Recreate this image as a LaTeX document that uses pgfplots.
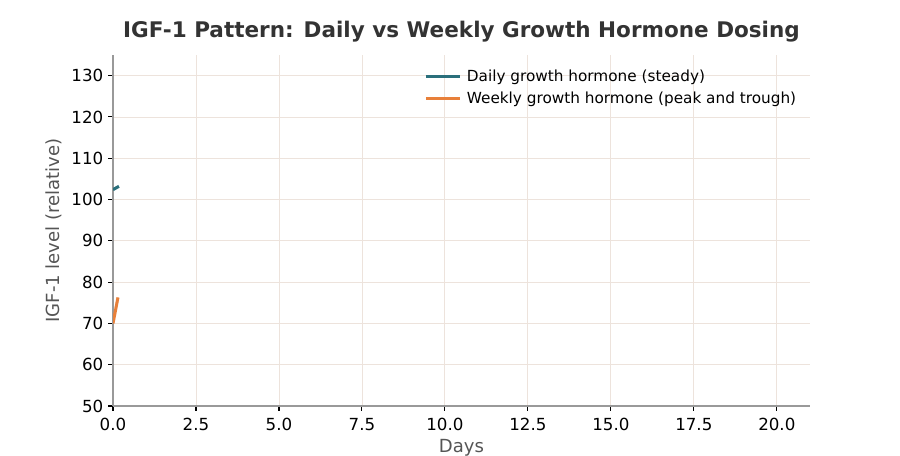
\documentclass[border=0pt]{standalone}
\usepackage{fontspec}
\setmainfont{DejaVu Sans}
\usepackage{pgfplots}
\pgfplotsset{compat=1.18}
\definecolor{dailyc}{HTML}{2A6F7B}
\definecolor{weeklyc}{HTML}{E8803A}
\definecolor{gridc}{HTML}{EDE3DC}
\definecolor{titlec}{HTML}{333333}
\definecolor{labc}{HTML}{555555}
\definecolor{spinec}{HTML}{999999}
\begin{document}
\begin{tikzpicture}
\useasboundingbox (0pt,0pt) rectangle (648pt,328.32pt);
\begin{scope}
\clip (0pt,0pt) rectangle (648pt,328.32pt);
\begin{axis}[
  at={(81.36pt,36pt)}, anchor=south west,
  scale only axis, width=501.84pt, height=252.72pt,
  xmin=0, xmax=21, ymin=50, ymax=135,
  xtick={0,2.5,...,20}, ytick={50,60,...,130},
  xticklabel style={yshift=-2pt, /pgf/number format/.cd,fixed,fixed zerofill,precision=1},
  /pgf/number format/assume math mode=true,
  tick label style={font=\fontsize{12}{14}\selectfont, black},
  axis x line*=bottom, axis y line*=left,
  axis line style={spinec, line width=0.8pt, -},
  tick style={black, line width=0.8pt},
  tick align=outside, major tick length=3.5pt,
  grid=major, major grid style={gridc, line width=0.6pt},
  xlabel={Days}, ylabel={IGF-1 level (relative)},
  label style={font=\fontsize{13}{15}\selectfont, text=labc},
  xlabel style={yshift=1pt},
  title={\textbf{IGF-1 Pattern: Daily vs Weekly Growth Hormone Dosing}},
  title style={font=\fontsize{15.5}{18}\selectfont, text=titlec, yshift=0pt},
  legend style={draw=none, fill=none, at={(0.44,0.975)}, anchor=north west,
    font=\fontsize{11}{13}\selectfont, row sep=2pt, nodes={inner xsep=4pt}},
  legend cell align=left,
  legend image code/.code={\draw[#1, line width=2.6pt] (0cm,0cm) -- (0.85cm,0cm);},
]
\addplot[dailyc, line width=2.2pt] coordinates {(0,102.4) (0.18,103.2)};
\addlegendentry{Daily growth hormone (steady)}
\addplot[weeklyc, line width=2.2pt] coordinates {(0,70) (0.15,76.3)};
\addlegendentry{Weekly growth hormone (peak and trough)}
\end{axis}
\end{scope}
\end{tikzpicture}
\end{document}
